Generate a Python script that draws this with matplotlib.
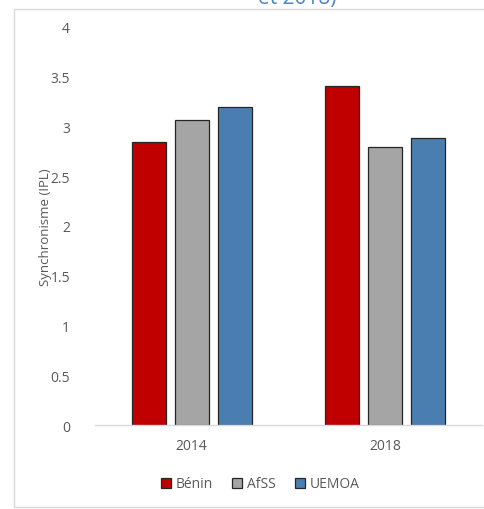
import matplotlib
matplotlib.use("Agg")
import matplotlib.pyplot as plt
import numpy as np
from matplotlib.patches import Rectangle

plt.rcParams['font.family'] = ['Open Sans', 'DejaVu Sans']

years = ["2014", "2018"]
series = ["Bénin", "AfSS", "UEMOA"]
benin = [2.84, 3.41]
afss = [3.07, 2.79]
uemoa = [3.20, 2.88]
colors = ["#C00000", "#A5A5A5", "#4A7EB0"]
yticks = [0, 0.5, 1, 1.5, 2, 2.5, 3, 3.5, 4]
ytick_labels = ["0", "0.5", "1", "1.5", "2", "2.5", "3", "3.5", "4"]

fig = plt.figure(figsize=(4.85, 5.1), dpi=100)
fig.patch.set_facecolor("white")

# outer frame
fig.patches.append(Rectangle((14/485, 2/510), 1.2, 1 - 12/510, transform=fig.transFigure,
                             fill=False, edgecolor="#D9D9D9", linewidth=1.0, zorder=0))

fig.text(258/485, 1 - 4/510, "et 2018)", ha="left", va="baseline", color="#4A86C5",
         fontsize=15)

ax = fig.add_axes([95/485, 1 - 426/510, (482 - 95)/485, (426 - 28)/510])
x = np.arange(len(years))
w = 0.176
off = 0.223
for i, (vals, c, name) in enumerate(zip([benin, afss, uemoa], colors, series)):
    ax.bar(x + (i - 1) * off, vals, width=w, color=c, edgecolor="#262626", linewidth=0.9, label=name)

ax.set_xlim(-0.5, 1.5)
ax.set_ylim(0, 4)
ax.set_yticks(yticks)
ax.set_yticklabels(ytick_labels)
ax.set_xticks(x)
ax.set_xticklabels(years)
for s in ["top", "right", "left"]:
    ax.spines[s].set_visible(False)
ax.spines["bottom"].set_color("#D9D9D9")
ax.spines["bottom"].set_linewidth(1.0)
ax.tick_params(axis="y", length=0, pad=18, labelsize=10, labelcolor="#595959")
ax.tick_params(axis="x", length=0, pad=9, labelsize=10, labelcolor="#595959")
ax.set_ylabel("Synchronisme (IPL)", fontsize=9.5, color="#595959", labelpad=-1)

handles, labels = ax.get_legend_handles_labels()
fig.legend(handles, labels, loc="center", bbox_to_anchor=(260/485, 1 - 485/510), ncol=3,
           frameon=False, handlelength=0.75, handleheight=0.75, handletextpad=0.3,
           columnspacing=1.4, fontsize=10, labelcolor="#595959")

fig.savefig("out.png", dpi=100)
